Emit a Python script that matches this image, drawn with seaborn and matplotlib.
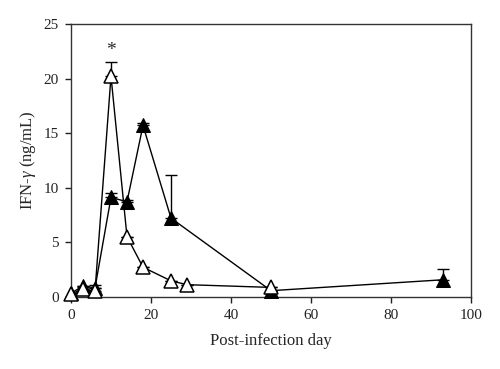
import numpy as np
import pandas as pd
import seaborn as sns
import matplotlib.pyplot as plt

# filled triangles
days_filled = [0, 3, 6, 10, 14, 18, 25, 50, 93]
ifn_filled = [0.3, 1.0, 0.8, 9.1, 8.7, 15.7, 7.2, 0.55, 1.55]
err_filled = [0.0, 0.0, 0.3, 0.4, 0.2, 0.2, 4.0, 0.0, 1.0]

# open triangles
days_open = [0, 3, 6, 10, 14, 18, 25, 29, 50]
ifn_open = [0.25, 0.7, 0.5, 20.2, 5.5, 2.7, 1.45, 1.1, 0.85]
err_open = [0.0, 0.2, 0.3, 1.3, 0.0, 0.0, 0.0, 0.0, 0.0]

sns.set_style('ticks')
plt.rcParams['font.family'] = ['Liberation Serif', 'DejaVu Serif']
plt.rcParams['mathtext.fontset'] = 'custom'
plt.rcParams['mathtext.it'] = 'Liberation Serif:italic'
plt.rcParams['mathtext.rm'] = 'Liberation Serif'

fig = plt.figure(figsize=(5, 3.69), dpi=100)
ax = fig.add_axes([0.142, 0.196, 0.8, 0.739])

filled = pd.DataFrame({'day': days_filled, 'ifn': ifn_filled})
opened = pd.DataFrame({'day': days_open, 'ifn': ifn_open})

ax.errorbar(days_filled, ifn_filled, yerr=[np.zeros(len(err_filled)), err_filled],
            fmt='none', ecolor='black', elinewidth=1, capsize=4.5, capthick=1, zorder=2)
ax.errorbar(days_open, ifn_open, yerr=[np.zeros(len(err_open)), err_open],
            fmt='none', ecolor='black', elinewidth=1, capsize=4.5, capthick=1, zorder=2)

sns.lineplot(data=filled, x='day', y='ifn', ax=ax, color='black', lw=1,
             marker='^', markersize=10.5, markerfacecolor='black',
             markeredgecolor='black', zorder=3, clip_on=False)
sns.lineplot(data=opened, x='day', y='ifn', ax=ax, color='black', lw=1,
             marker='^', markersize=10.5, markerfacecolor='white',
             markeredgecolor='black', markeredgewidth=1.1, zorder=4, clip_on=False)

ax.text(10, 21.8, '*', ha='center', va='bottom', fontsize=14)

ax.set_xlim(0, 100)
ax.set_ylim(0, 25)
ax.set_xticks([0, 20, 40, 60, 80, 100])
ax.set_yticks([0, 5, 10, 15, 20, 25])
ax.tick_params(direction='out', length=4, width=1, labelsize=11, colors='#222222', pad=5)
ax.set_xlabel('Post-infection day', fontsize=12, labelpad=8)
ax.set_ylabel('IFN-$\\mathit{\\gamma}$ (ng/mL)', fontsize=12, labelpad=4)
for s in ax.spines.values():
    s.set_linewidth(1)
    s.set_color('#333333')

fig.savefig('out.png', dpi=100)
